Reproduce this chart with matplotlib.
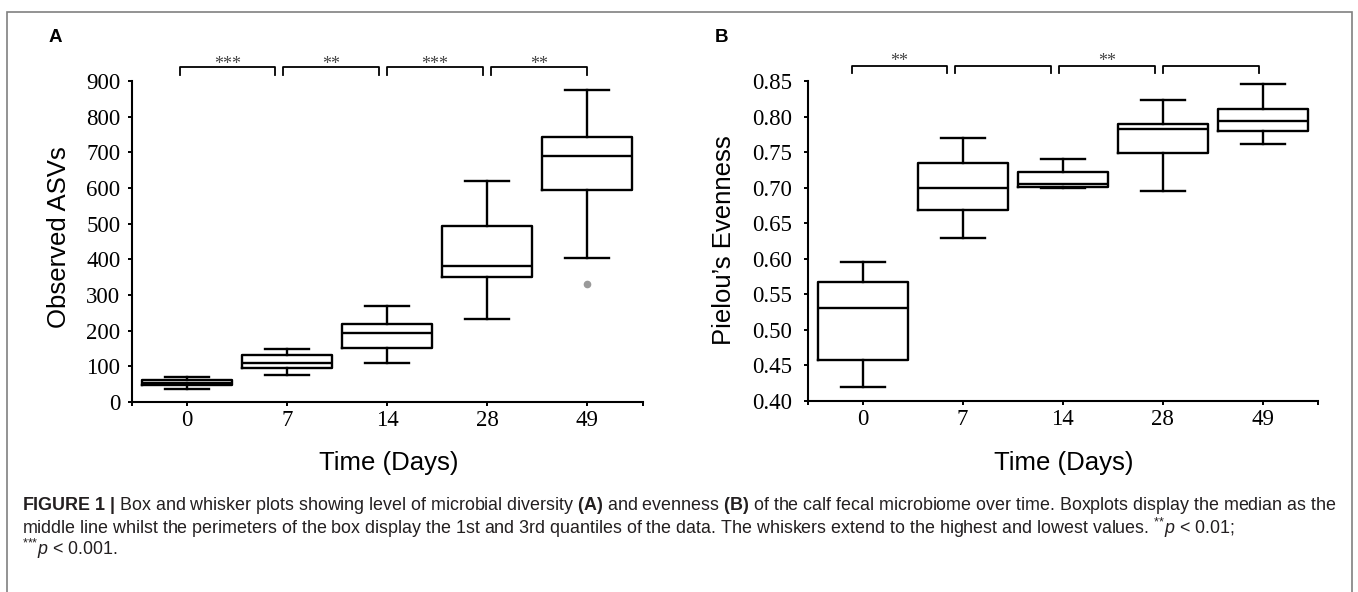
import matplotlib
matplotlib.use('Agg')
import matplotlib.pyplot as plt
from matplotlib.patches import Rectangle

# data (box and whisker summary per day)
days = ['0', '7', '14', '28', '49']

asv_whislo = [37, 75, 110, 233, 405]
asv_q1 = [48, 96, 151, 350, 593]
asv_med = [54, 110, 194, 381, 690]
asv_q3 = [61, 131, 219, 493, 742]
asv_whishi = [69, 148, 268, 619, 876]
asv_fliers = [[], [], [], [], [332]]

even_whislo = [0.420, 0.629, 0.699, 0.695, 0.761]
even_q1 = [0.458, 0.668, 0.701, 0.749, 0.779]
even_med = [0.531, 0.700, 0.705, 0.782, 0.794]
even_q3 = [0.568, 0.734, 0.722, 0.789, 0.811]
even_whishi = [0.596, 0.770, 0.740, 0.823, 0.846]
even_fliers = [[], [], [], [], []]

sig_asv = ['***', '**', '***', '**']
sig_even = ['**', '', '**', '']

W, H = 1358, 592
plt.rcParams['mathtext.fontset'] = 'custom'
plt.rcParams['mathtext.rm'] = 'Liberation Sans'
plt.rcParams['mathtext.it'] = 'Liberation Sans:italic'
plt.rcParams['mathtext.bf'] = 'Liberation Sans:bold'

fig = plt.figure(figsize=(W / 100, H / 100), dpi=100)


def px(x, y):
    return x / W, 1 - y / H


def make_stats(lo, q1, med, q3, hi, fl):
    return [dict(whislo=lo[i], q1=q1[i], med=med[i], q3=q3[i], whishi=hi[i], fliers=fl[i])
            for i in range(len(lo))]


def draw_panel(ax, stats, yticks, yfmt, ylim, sig, br_left, br_right, br_y, star_y, lab_pad):
    lw = 1.7
    ax.bxp(stats, positions=range(len(days)), widths=0.9, capwidths=0.44,
           boxprops=dict(color='black', linewidth=lw),
           medianprops=dict(color='black', linewidth=lw),
           whiskerprops=dict(color='black', linewidth=lw),
           capprops=dict(color='black', linewidth=lw),
           flierprops=dict(marker='o', markersize=4.5, markerfacecolor='#9a9a9a',
                           markeredgecolor='#9a9a9a'))
    ax.set_xlim(-0.55, 4.555)
    ax.set_ylim(*ylim)
    ax.set_xticks(range(len(days)))
    ax.set_xticklabels(days)
    ax.set_xticks([-0.55, 4.555], minor=True)
    ax.set_yticks(yticks)
    ax.set_yticklabels([yfmt % v for v in yticks])
    for s in ['top', 'right']:
        ax.spines[s].set_visible(False)
    for s in ['left', 'bottom']:
        ax.spines[s].set_linewidth(1.5)
    ax.tick_params(axis='both', which='both', direction='out', length=3, width=1.4)
    ax.tick_params(axis='x', pad=3, labelsize=16.5)
    ax.tick_params(axis='y', pad=lab_pad, labelsize=16.5)
    for t in ax.get_xticklabels() + ax.get_yticklabels():
        t.set_fontfamily('Liberation Serif')
    trans = ax.get_xaxis_transform()
    for l, r, s in zip(br_left, br_right, sig):
        ax.plot([l, l, r, r], [br_y[0], br_y[1], br_y[1], br_y[0]], color='black',
                lw=1.3, transform=trans, clip_on=False)
        if s:
            ax.text((l + r) / 2, star_y, s, transform=trans, ha='center', va='baseline',
                    fontsize=13, color='#444444', family='Liberation Serif')


axA = fig.add_axes([132.3 / W, 1 - 402 / H, 510.4 / W, 321 / H])
draw_panel(axA, make_stats(asv_whislo, asv_q1, asv_med, asv_q3, asv_whishi, asv_fliers),
           list(range(0, 901, 100)), '%d', (0, 900), sig_asv,
           [-0.077, 0.958, 1.994, 3.036], [0.878, 1.917, 2.956, 3.998],
           (1.018, 1.043), 1.037, 5.5)

axB = fig.add_axes([807.7 / W, 1 - 401 / H, 510.3 / W, 320 / H])
draw_panel(axB, make_stats(even_whislo, even_q1, even_med, even_q3, even_whishi, even_fliers),
           [0.40 + 0.05 * i for i in range(10)], '%.2f', (0.40, 0.85), sig_even,
           [-0.106, 0.926, 1.965, 3.0], [0.843, 1.88, 2.922, 3.96],
           (1.024, 1.048), 1.046, 8)

sans = 'Liberation Sans'
fig.text(*px(55, 38), 'A', ha='center', va='center', fontsize=13.5, fontweight='bold', family=sans)
fig.text(*px(722, 37), 'B', ha='center', va='center', fontsize=13.5, fontweight='bold', family=sans)
fig.text(*px(59, 237), 'Observed ASVs', rotation=90, ha='center', va='center', fontsize=18.5, family=sans)
fig.text(*px(724, 240), 'Pielou\u2019s Evenness', rotation=90, ha='center', va='center', fontsize=18.5, family=sans)
fig.text(*px(389, 463), 'Time (Days)', ha='center', va='center', fontsize=18.5, family=sans)
fig.text(*px(1064, 463), 'Time (Days)', ha='center', va='center', fontsize=18.5, family=sans)

cap1 = (r'$\mathbf{FIGURE\ 1\ |}$ Box and whisker plots showing level of microbial diversity '
        r'$\mathbf{(A)}$ and evenness $\mathbf{(B)}$ of the calf fecal microbiome over time. '
        r'Boxplots display the median as the')
cap2 = (r'middle line whilst the perimeters of the box display the 1st and 3rd quantiles of the data. '
        r'The whiskers extend to the highest and lowest values. ${}^{{*}{*}}\mathit{p}$ < 0.01;')
cap3 = r'${}^{{*}{*}{*}}\mathit{p}$ < 0.001.'
for i, line in enumerate([cap1, cap2, cap3]):
    fig.text(*px(22, 506 + 21.5 * i), line, ha='left', va='center', fontsize=12.85,
             family=sans, color='#231f20')

fig.add_artist(Rectangle(px(7.3, 600), (1352.3 - 7.3) / W, (600 - 11.7) / H,
                         transform=fig.transFigure, fill=False, edgecolor='#808080', lw=1.2))

fig.savefig('out.png', dpi=100)
